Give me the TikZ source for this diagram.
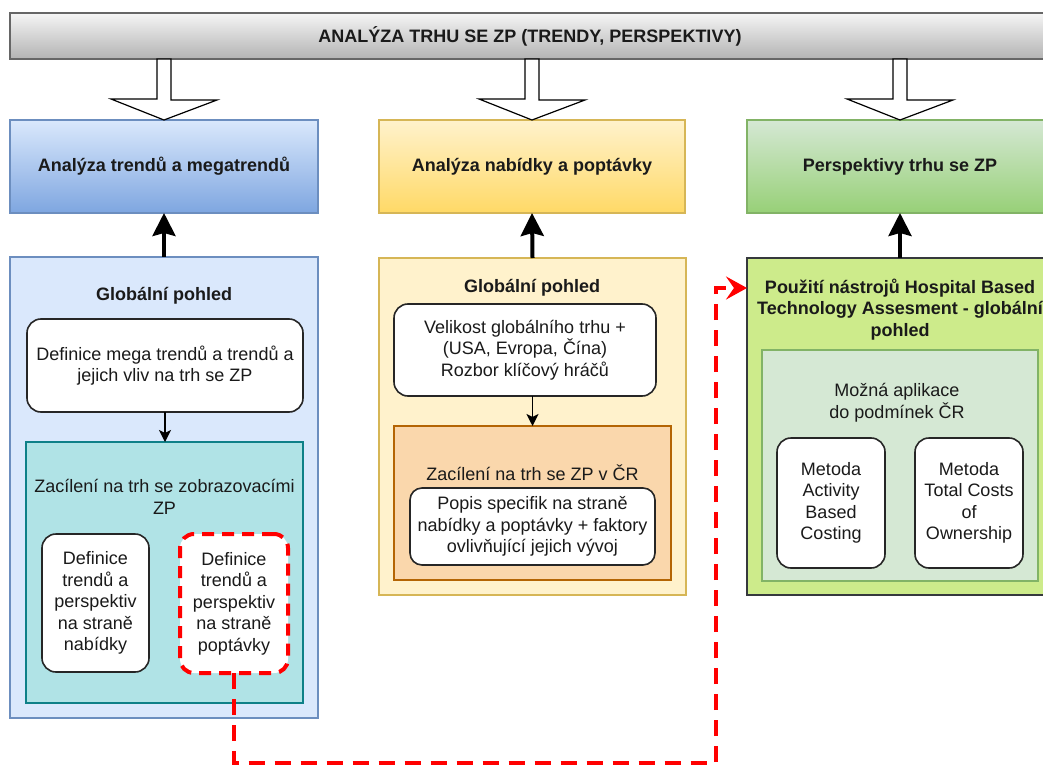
\documentclass[tikz,border=0pt]{standalone}
\usepackage{fontspec}
\setmainfont{Liberation Sans}
\usetikzlibrary{arrows.meta,calc}
\definecolor{barTop}{HTML}{F5F5F5}
\definecolor{barBot}{HTML}{B3B3B3}
\definecolor{barLine}{HTML}{666666}
\definecolor{blueTop}{HTML}{DAE8FC}
\definecolor{blueBot}{HTML}{7EA6E0}
\definecolor{blueLine}{HTML}{6C8EBF}
\definecolor{yelTop}{HTML}{FFF2CC}
\definecolor{yelBot}{HTML}{FFD966}
\definecolor{yelLine}{HTML}{D6B656}
\definecolor{grnTop}{HTML}{D5E8D4}
\definecolor{grnBot}{HTML}{97D077}
\definecolor{grnLine}{HTML}{82B366}
\definecolor{tealFill}{HTML}{B0E3E6}
\definecolor{tealLine}{HTML}{0E8088}
\definecolor{orFill}{HTML}{FAD7AC}
\definecolor{orLine}{HTML}{B46504}
\definecolor{limeFill}{HTML}{CDEB8B}
\definecolor{limeLine}{HTML}{36393D}
\definecolor{txtCol}{HTML}{1A1A1A}
\tikzset{
  box/.style={draw, line width=1.5pt, anchor=north west, inner sep=0pt, outer sep=0pt, align=center},
  wbox/.style={box, draw=black!85, line width=1.6pt, fill=white, rounded corners=14pt},
  redborder/.style={draw=red, line width=4pt, dash pattern=on 12pt off 8pt},
  reddash/.style={draw=red, line width=4pt, dash pattern=on 16pt off 10pt,
    -{Stealth[length=21pt,width=23pt,inset=8pt,fill=red]}},
  thk/.style={line width=4pt, -{Stealth[length=23pt,width=23pt,inset=3pt]}},
  thn/.style={line width=1.5pt, -{Stealth[length=12pt,width=12pt,inset=3pt]}},
  hollow/.style={draw=black, line width=1.2pt, fill=white, line join=miter},
  bt/.style={font=\fontsize{18pt}{21.5pt}\selectfont\bfseries, align=center, inner sep=0pt},
  rt/.style={font=\fontsize{18pt}{21.5pt}\selectfont, align=center, inner sep=0pt},
}
\begin{document}
\begin{tikzpicture}[x=1pt,y=-1pt,font=\fontsize{18pt}{21.5pt}\selectfont,text=txtCol]
\useasboundingbox (0,0) rectangle (1043,765);
\clip (0,0) rectangle (1043,765);
\fill[white] (0,0) rectangle (1043,765);

% top bar
\node[box, top color=barTop, bottom color=barBot, draw=barLine, minimum width=1040pt, minimum height=46pt, font=\fontsize{18pt}{21.5pt}\selectfont\bfseries] (top) at (10,13) {ANALÝZA TRHU SE ZP (TRENDY, PERSPEKTIVY)};

% headers
\node[box, top color=blueTop, bottom color=blueBot, draw=blueLine, minimum width=308pt, minimum height=93pt, font=\fontsize{18pt}{21.5pt}\selectfont\bfseries] (hA) at (10,120) {Analýza trendů a megatrendů};
\node[box, top color=yelTop, bottom color=yelBot, draw=yelLine, minimum width=306pt, minimum height=93pt, font=\fontsize{18pt}{21.5pt}\selectfont\bfseries] (hB) at (379,120) {Analýza nabídky a poptávky};
\node[box, top color=grnTop, bottom color=grnBot, draw=grnLine, minimum width=306pt, minimum height=93pt, font=\fontsize{18pt}{21.5pt}\selectfont\bfseries] (hC) at (747,120) {Perspektivy trhu se ZP};

% hollow arrows from the top bar
\foreach \h in {hA,hB,hC}{
  \draw[hollow] ($(\h.north|-top.south)+(-7,0)$) -- ++(0,40) -- ++(-46,0) -- (\h.north) -- ++(53,-20) -- ++(-46,0) -- ($(\h.north|-top.south)+(7,0)$) -- cycle;
}

% containers
\node[box, fill=blueTop, draw=blueLine, minimum width=308pt, minimum height=461pt] (cA) at (10,257) {};
\node[box, fill=yelTop, draw=yelLine, minimum width=307pt, minimum height=337pt] (cB) at (379,258) {};
\node[box, fill=limeFill, draw=limeLine, minimum width=306pt, minimum height=337pt] (cC) at (747,258) {};

\draw[thk] (cA.north) -- (hA.south);
\draw[thk] (cB.north) -- (hB.south);
\draw[thk] (cC.north) -- (hC.south);

% left column
\node[bt] (gA) at (164,296) {Globální pohled};
\node[wbox, minimum width=276pt, minimum height=93pt] (dMega) at (27,319) {Definice mega trendů a trendů a\\jejich vliv na trh se ZP};
\node[box, fill=tealFill, draw=tealLine, minimum width=277pt, minimum height=261pt] (tA) at (26,442) {};
\draw[thn] (dMega.south) -- (dMega.south |- tA.north);
\node[rt] (zA) at (164.5,497) {Zacílení na trh se zobrazovacími\\ZP};
\node[wbox, minimum width=107pt, minimum height=138pt] (dB1) at (42,534) {Definice\\trendů a\\perspektiv\\na straně\\nabídky};
\node[wbox, redborder, minimum width=108pt, minimum height=139pt] (dB2) at (180,534) {Definice\\trendů a\\perspektiv\\na straně\\poptávky};

% middle column
\node[bt] (gB) at (532,288) {Globální pohled};
\node[wbox, minimum width=262pt, minimum height=92pt] (vB) at (394,304) {Velikost globálního trhu +\\(USA, Evropa, Čína)\\Rozbor klíčový hráčů};
\node[box, fill=orFill, draw=orLine, minimum width=277pt, minimum height=154pt] (oB) at (394,426) {};
\draw[thn] (vB.south -| oB.north) -- (oB.north);
\node[rt] (zB) at (532.5,473) {Zacílení na trh se ZP v ČR};
\node[wbox, rounded corners=12pt, minimum width=245pt, minimum height=77pt] (pB) at (410,488) {Popis specifik na straně\\nabídky a poptávky + faktory\\ovlivňující jejich vývoj};

% right column
\node[bt] (tC) at (900,309.5) {Použití nástrojů Hospital Based\\Technology Assesment - globální\\pohled};
\node[box, fill=grnTop, draw=grnLine, minimum width=276pt, minimum height=231pt] (iC) at (762,350) {};
\node[rt] (mC) at (897,402.5) {Možná aplikace\\do podmínek ČR};
\node[wbox, minimum width=108pt, minimum height=130pt] (m1) at (777,438) {Metoda\\Activity\\Based\\Costing};
\node[wbox, minimum width=108pt, minimum height=130pt] (m2) at (915,438) {Metoda\\Total Costs\\of\\Ownership};

% red dashed connector
\coordinate (r1) at (716,762.5);
\coordinate (r2) at (716,288);
\draw[reddash] (dB2.south) -- (dB2.south |- r1) -- (r1) -- (r2) -- (r2 -| cC.west);
\end{tikzpicture}
\end{document}
